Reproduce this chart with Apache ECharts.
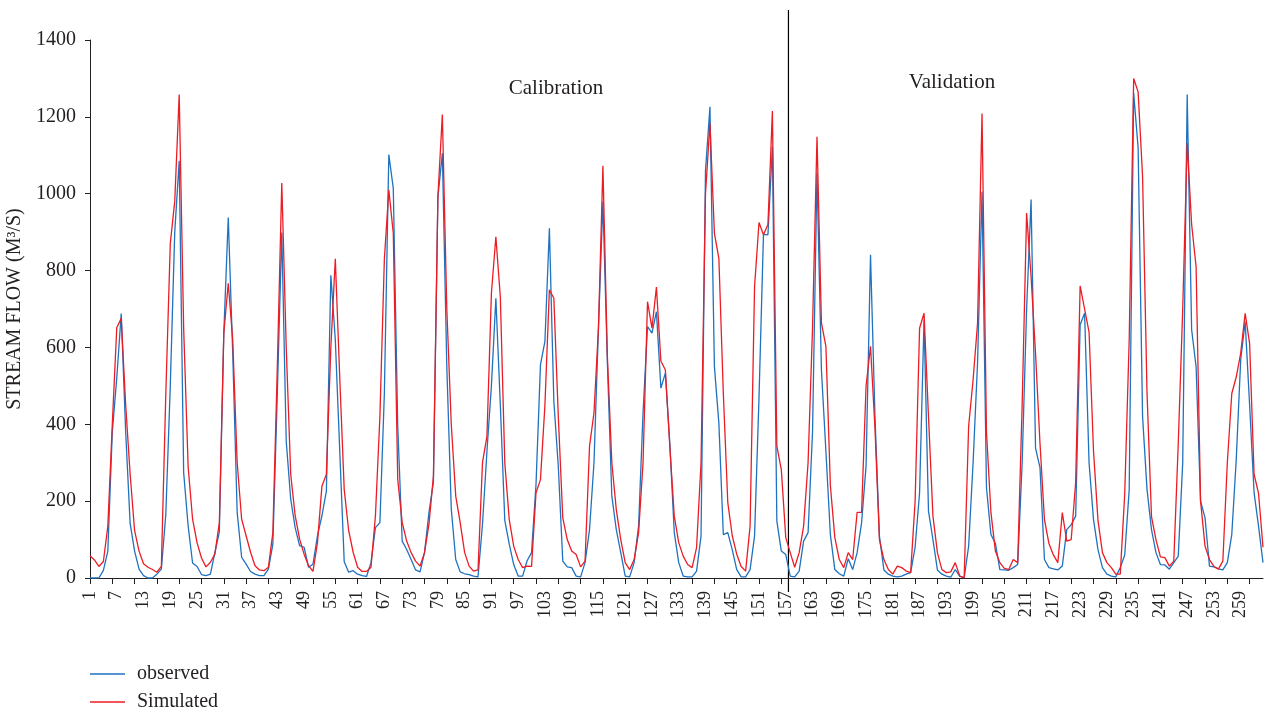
<!DOCTYPE html>
<html>
<head>
<meta charset="utf-8">
<script src="https://cdn.jsdelivr.net/npm/echarts@6/dist/echarts.min.js"></script>
<style>
  html, body { margin: 0; padding: 0; background: #fff; }
  #chart { width: 1266px; height: 716px; }
</style>
</head>
<body>
<div id="chart"></div>
<script>
// months 1..264, calibration up to 157
var months = [];
for (var m = 1; m <= 264; m++) months.push(String(m));

var observed = [
    0, 0, 0, 20, 70, 380, 520, 688, 380, 142,
    70, 23, 6, 0, 0, 10, 23, 166, 500, 900,
    1086, 274, 136, 39, 30, 9, 6, 10, 66, 120,
    637, 938, 585, 170, 54, 36, 17, 10, 6, 6,
    23, 88, 480, 899, 356, 205, 131, 84, 80, 28,
    36, 110, 162, 226, 788, 620, 330, 42, 15, 19,
    10, 6, 4, 40, 131, 144, 480, 1102, 1014, 395,
    96, 74, 48, 21, 16, 66, 170, 250, 990, 1105,
    550, 180, 48, 16, 11, 9, 5, 3, 140, 330,
    500, 728, 450, 150, 88, 35, 5, 5, 45, 66,
    243, 555, 616, 910, 460, 290, 44, 29, 27, 5,
    3, 40, 126, 300, 650, 980, 560, 213, 126, 66,
    5, 3, 40, 135, 430, 654, 637, 693, 494, 533,
    350, 118, 40, 5, 3, 3, 18, 109, 1060, 1226,
    550, 403, 113, 118, 74, 22, 3, 3, 22, 109,
    470, 894, 893, 1122, 148, 70, 61, 5, 3, 18,
    96, 118, 380, 1053, 540, 330, 113, 22, 11, 5,
    50, 22, 66, 144, 291, 841, 420, 109, 21, 10,
    5, 3, 5, 10, 14, 80, 222, 672, 174, 100,
    21, 10, 5, 2, 22, 5, 0, 83, 300, 560,
    1005, 235, 113, 90, 22, 21, 20, 27, 35, 300,
    700, 985, 338, 287, 48, 27, 24, 21, 31, 126,
    139, 161, 659, 689, 300, 152, 74, 27, 10, 5,
    3, 27, 60, 230, 1262, 1120, 420, 230, 126, 66,
    35, 34, 23, 40, 57, 300, 1258, 646, 550, 200,
    157, 31, 29, 24, 21, 40, 113, 308, 568, 667,
    450, 222, 135, 40
];

var simulated = [
    58, 47, 30, 43, 135, 400, 651, 676, 450, 270,
    123, 70, 37, 28, 22, 15, 30, 480, 870, 980,
    1258, 650, 290, 153, 92, 52, 29, 41, 62, 144,
    637, 767, 620, 300, 153, 110, 67, 32, 21, 19,
    28, 118, 550, 1028, 600, 270, 162, 101, 62, 32,
    17, 92, 239, 270, 600, 831, 520, 230, 123, 67,
    28, 17, 17, 28, 162, 420, 830, 1010, 897, 256,
    144, 96, 66, 44, 31, 66, 140, 265, 992, 1206,
    700, 400, 213, 144, 66, 31, 18, 21, 300, 369,
    741, 888, 732, 300, 152, 83, 48, 27, 31, 30,
    222, 256, 450, 750, 728, 420, 157, 100, 70, 61,
    29, 44, 343, 430, 650, 1073, 577, 300, 178, 100,
    40, 22, 48, 118, 300, 719, 650, 757, 564, 542,
    343, 161, 92, 57, 35, 27, 79, 300, 1000, 1183,
    897, 832, 480, 196, 110, 62, 30, 18, 135, 758,
    925, 893, 920, 1215, 343, 282, 105, 66, 28, 66,
    135, 300, 650, 1148, 663, 603, 240, 105, 48, 27,
    66, 48, 171, 171, 499, 603, 390, 100, 48, 22,
    10, 31, 27, 18, 14, 200, 650, 689, 420, 161,
    66, 22, 14, 16, 40, 5, 1, 395, 516, 663,
    1209, 380, 170, 70, 40, 25, 22, 48, 40, 450,
    950, 784, 585, 350, 152, 90, 60, 40, 170, 96,
    100, 250, 760, 700, 640, 330, 150, 66, 40, 27,
    10, 10, 220, 620, 1300, 1265, 1044, 480, 160, 100,
    55, 53, 31, 44, 350, 700, 1132, 920, 810, 200,
    83, 48, 30, 23, 44, 300, 480, 523, 585, 689,
    610, 270, 220, 80
];

var yTicks = { min: 0, max: 1400, step: 200 };
var splitAt = '157';

var serif = '"Liberation Serif", "DejaVu Serif", serif';
var ink = '#231f20';

var myChart = echarts.init(document.getElementById('chart'));

var option = {
    animation: false,
    backgroundColor: '#fff',
    grid: { left: 90, right: 3, top: 40, bottom: 138, outerBoundsMode: 'none', containLabel: false },
    legend: {
        orient: 'vertical',
        left: 90,
        top: 664,
        padding: 0,
        icon: 'rect',
        itemWidth: 35,
        itemHeight: 1.5,
        itemGap: 8,
        textStyle: { fontFamily: serif, fontSize: 20, color: ink, lineHeight: 20, padding: [0, 0, 0, 7] },
        data: ['observed', 'Simulated']
    },
    xAxis: {
        type: 'category',
        data: months,
        boundaryGap: false,
        axisLine: { lineStyle: { color: ink, width: 1 } },
        axisTick: { interval: 4, length: 6, lineStyle: { color: ink } },
        axisLabel: {
            interval: 5,
            rotate: 90,
            margin: 13,
            fontFamily: serif,
            fontSize: 18,
            color: ink
        },
        splitLine: { show: false }
    },
    yAxis: {
        type: 'value',
        min: yTicks.min,
        max: yTicks.max,
        interval: yTicks.step,
        name: 'STREAM FLOW (M\u00B3/S)',
        nameLocation: 'middle',
        nameRotate: 90,
        nameGap: 62,
        nameTextStyle: { fontFamily: serif, fontSize: 20, color: ink },
        axisLine: { show: true, lineStyle: { color: ink, width: 1 } },
        axisTick: { show: true, length: 5, lineStyle: { color: ink } },
        axisLabel: {
            fontFamily: serif, fontSize: 20, color: ink, margin: 14,
            formatter: function (v) { return String(v); }
        },
        splitLine: { show: false }
    },
    series: [
        {
            name: 'observed',
            type: 'line',
            data: observed,
            showSymbol: false,
            symbol: 'none',
            lineStyle: { color: '#1f72c0', width: 1.3 },
            itemStyle: { color: '#1f72c0' }
        },
        {
            name: 'Simulated',
            type: 'line',
            data: simulated,
            showSymbol: false,
            symbol: 'none',
            lineStyle: { color: '#ec1c24', width: 1.3 },
            itemStyle: { color: '#ec1c24' }
        }
    ]
};
myChart.setOption(option);

// split line between calibration and validation
var x0 = myChart.convertToPixel({ xAxisIndex: 0 }, splitAt);
var x1 = myChart.convertToPixel({ xAxisIndex: 0 }, '158');
var xs = x0 + (x1 - x0) * 0.6;

myChart.setOption({
    graphic: [
        {
            type: 'line',
            shape: { x1: xs, y1: 10, x2: xs, y2: 592 },
            style: { stroke: '#000', lineWidth: 1.2 }
        },
        {
            type: 'text',
            x: 556, y: 88,
            style: { text: 'Calibration', fontFamily: serif, fontSize: 21, fill: ink, align: 'center', verticalAlign: 'middle' }
        },
        {
            type: 'text',
            x: 952, y: 82,
            style: { text: 'Validation', fontFamily: serif, fontSize: 21, fill: ink, align: 'center', verticalAlign: 'middle' }
        }
    ]
});
</script>
</body>
</html>
